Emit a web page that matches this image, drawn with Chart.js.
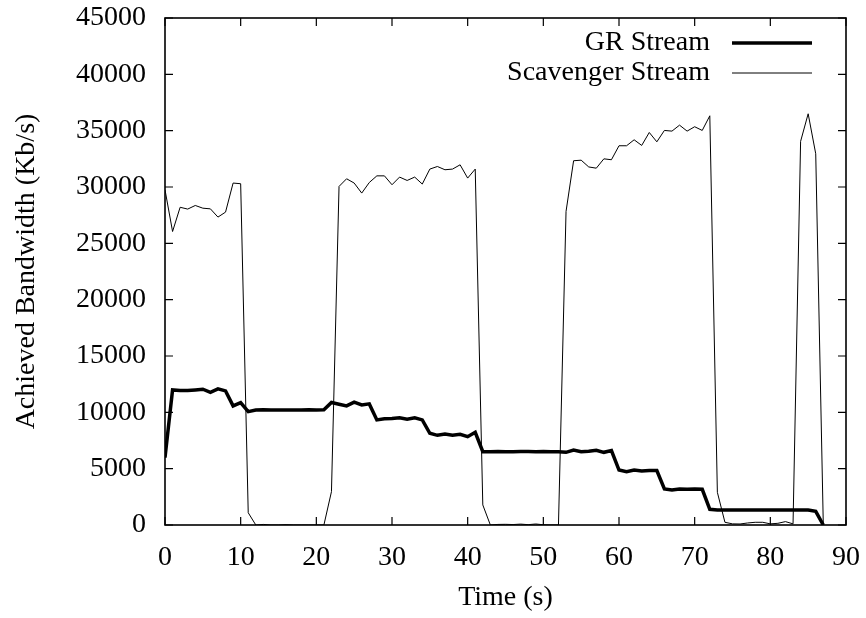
<!DOCTYPE html>
<html>
<head>
<meta charset="utf-8">
<script src="https://cdn.jsdelivr.net/npm/chart.js@4/dist/chart.umd.min.js"></script>
<style>
  html, body { margin: 0; padding: 0; background: #fff; }
  #wrap { width: 866px; height: 618px; }
</style>
</head>
<body>
<div id="wrap"><canvas id="myChart" width="866" height="618"></canvas></div>
<script>
// ── data (one sample per second) ──
const times = [
    0, 1, 2, 3, 4, 5, 6, 7, 8, 9, 10, 11, 12, 13, 14, 15, 16, 17, 18, 19,
    20, 21, 22, 23, 24, 25, 26, 27, 28, 29, 30, 31, 32, 33, 34, 35, 36, 37, 38, 39,
    40, 41, 42, 43, 44, 45, 46, 47, 48, 49, 50, 51, 52, 53, 54, 55, 56, 57, 58, 59,
    60, 61, 62, 63, 64, 65, 66, 67, 68, 69, 70, 71, 72, 73, 74, 75, 76, 77, 78, 79,
    80, 81, 82, 83, 84, 85, 86, 87
];

const grStream = [
    5980, 11990, 11930, 11930, 11990, 12050, 11780, 12080, 11900, 10570,
    10870, 10060, 10210, 10220, 10210, 10210, 10200, 10210, 10210, 10220,
    10210, 10230, 10870, 10720, 10570, 10900, 10660, 10750, 9330, 9420,
    9450, 9510, 9390, 9510, 9330, 8140, 7960, 8080, 7960, 8050,
    7840, 8230, 6510, 6510, 6520, 6510, 6510, 6530, 6520, 6510,
    6520, 6510, 6510, 6450, 6660, 6510, 6540, 6630, 6450, 6600,
    4880, 4740, 4880, 4800, 4830, 4830, 3200, 3110, 3200, 3180,
    3200, 3170, 1390, 1330, 1330, 1330, 1330, 1330, 1330, 1330,
    1330, 1330, 1330, 1330, 1330, 1330, 1210, 0
];

const scavengerStream = [
    29750, 26050, 28200, 28040, 28360, 28120, 28060, 27330, 27770, 30350,
    30290, 1090, 0, 50, 0, 0, 30, 0, 0, 0,
    0, 0, 2960, 30050, 30730, 30350, 29460, 30400, 30990, 30990,
    30200, 30880, 30580, 30880, 30260, 31590, 31820, 31530, 31590, 31970,
    30790, 31590, 1780, 0, 50, 60, 40, 80, 30, 90,
    20, 0, 0, 27830, 32330, 32380, 31780, 31670, 32500, 32420,
    33660, 33660, 34190, 33690, 34840, 34010, 35020, 34960, 35490, 34960,
    35350, 35020, 36320, 2900, 240, 100, 90, 180, 240, 240,
    100, 150, 300, 100, 34050, 36500, 32950, 0
];

const seriesNames = ['GR Stream', 'Scavenger Stream'];
const xTitle = 'Time (s)';
const yTitle = 'Achieved Bandwidth (Kb/s)';

const FONT = "'Liberation Serif', 'Times New Roman', serif";
Chart.defaults.font.family = FONT;
Chart.defaults.font.size = 28;
Chart.defaults.color = '#000';

// gnuplot look: closed border, inward ticks on all four sides, legend top right
const gnuplotFrame = {
    id: 'gnuplotFrame',
    afterDraw(c) {
        const ctx = c.ctx;
        const a = c.chartArea;
        const xs = c.scales.x, ys = c.scales.y;
        const tick = 8;
        ctx.save();
        ctx.strokeStyle = '#000';
        ctx.lineWidth = 1.2;
        ctx.beginPath();
        xs.ticks.forEach(t => {
            const px = xs.getPixelForValue(t.value);
            ctx.moveTo(px, a.bottom); ctx.lineTo(px, a.bottom - tick);
            ctx.moveTo(px, a.top); ctx.lineTo(px, a.top + tick);
        });
        ys.ticks.forEach(t => {
            const py = ys.getPixelForValue(t.value);
            ctx.moveTo(a.left, py); ctx.lineTo(a.left + tick, py);
            ctx.moveTo(a.right, py); ctx.lineTo(a.right - tick, py);
        });
        ctx.stroke();
        ctx.lineWidth = 1.6;
        ctx.strokeRect(a.left, a.top, a.right - a.left, a.bottom - a.top);

        // legend
        ctx.font = '28px ' + FONT;
        ctx.fillStyle = '#000';
        ctx.textAlign = 'right';
        ctx.textBaseline = 'middle';
        c.data.datasets.forEach((ds, i) => {
            const y = a.top + 25 + i * 30;
            ctx.fillText(ds.label, a.left + 545, y);
            ctx.lineWidth = ds.borderWidth;
            ctx.beginPath();
            ctx.moveTo(a.left + 567, y);
            ctx.lineTo(a.left + 647, y);
            ctx.stroke();
        });
        ctx.restore();
    }
};

const toPoints = vals => vals.map((v, i) => ({ x: times[i], y: v }));

new Chart(document.getElementById('myChart').getContext('2d'), {
    type: 'line',
    data: {
        datasets: [
            { label: seriesNames[0], data: toPoints(grStream), borderColor: '#000', borderWidth: 3.5, pointRadius: 0, tension: 0, fill: false },
            { label: seriesNames[1], data: toPoints(scavengerStream), borderColor: '#000', borderWidth: 1, pointRadius: 0, tension: 0, fill: false }
        ]
    },
    options: {
        responsive: false,
        animation: false,
        layout: { padding: { top: 18, right: 20, left: 0, bottom: 0 } },
        plugins: { legend: { display: false }, tooltip: { enabled: false } },
        scales: {
            x: {
                type: 'linear', min: 0, max: 90,
                ticks: { stepSize: 10, padding: 16, color: '#000', maxRotation: 0, callback: v => String(v) },
                grid: { display: false, drawTicks: false },
                border: { display: false },
                title: { display: true, text: xTitle, color: '#000', padding: { top: 0, bottom: 4 } },
                afterFit: s => { s.height = 93; s.paddingLeft = 0; s.paddingRight = 0; }
            },
            y: {
                min: 0, max: 45000,
                ticks: { stepSize: 5000, padding: 19, color: '#000', callback: v => String(v) },
                grid: { display: false, drawTicks: false },
                border: { display: false },
                title: { display: true, text: yTitle, color: '#000', padding: { top: 10, bottom: 0 } },
                afterFit: s => { s.width = 165; s.paddingTop = 0; s.paddingBottom = 0; }
            }
        }
    },
    plugins: [gnuplotFrame]
});
</script>
</body>
</html>
